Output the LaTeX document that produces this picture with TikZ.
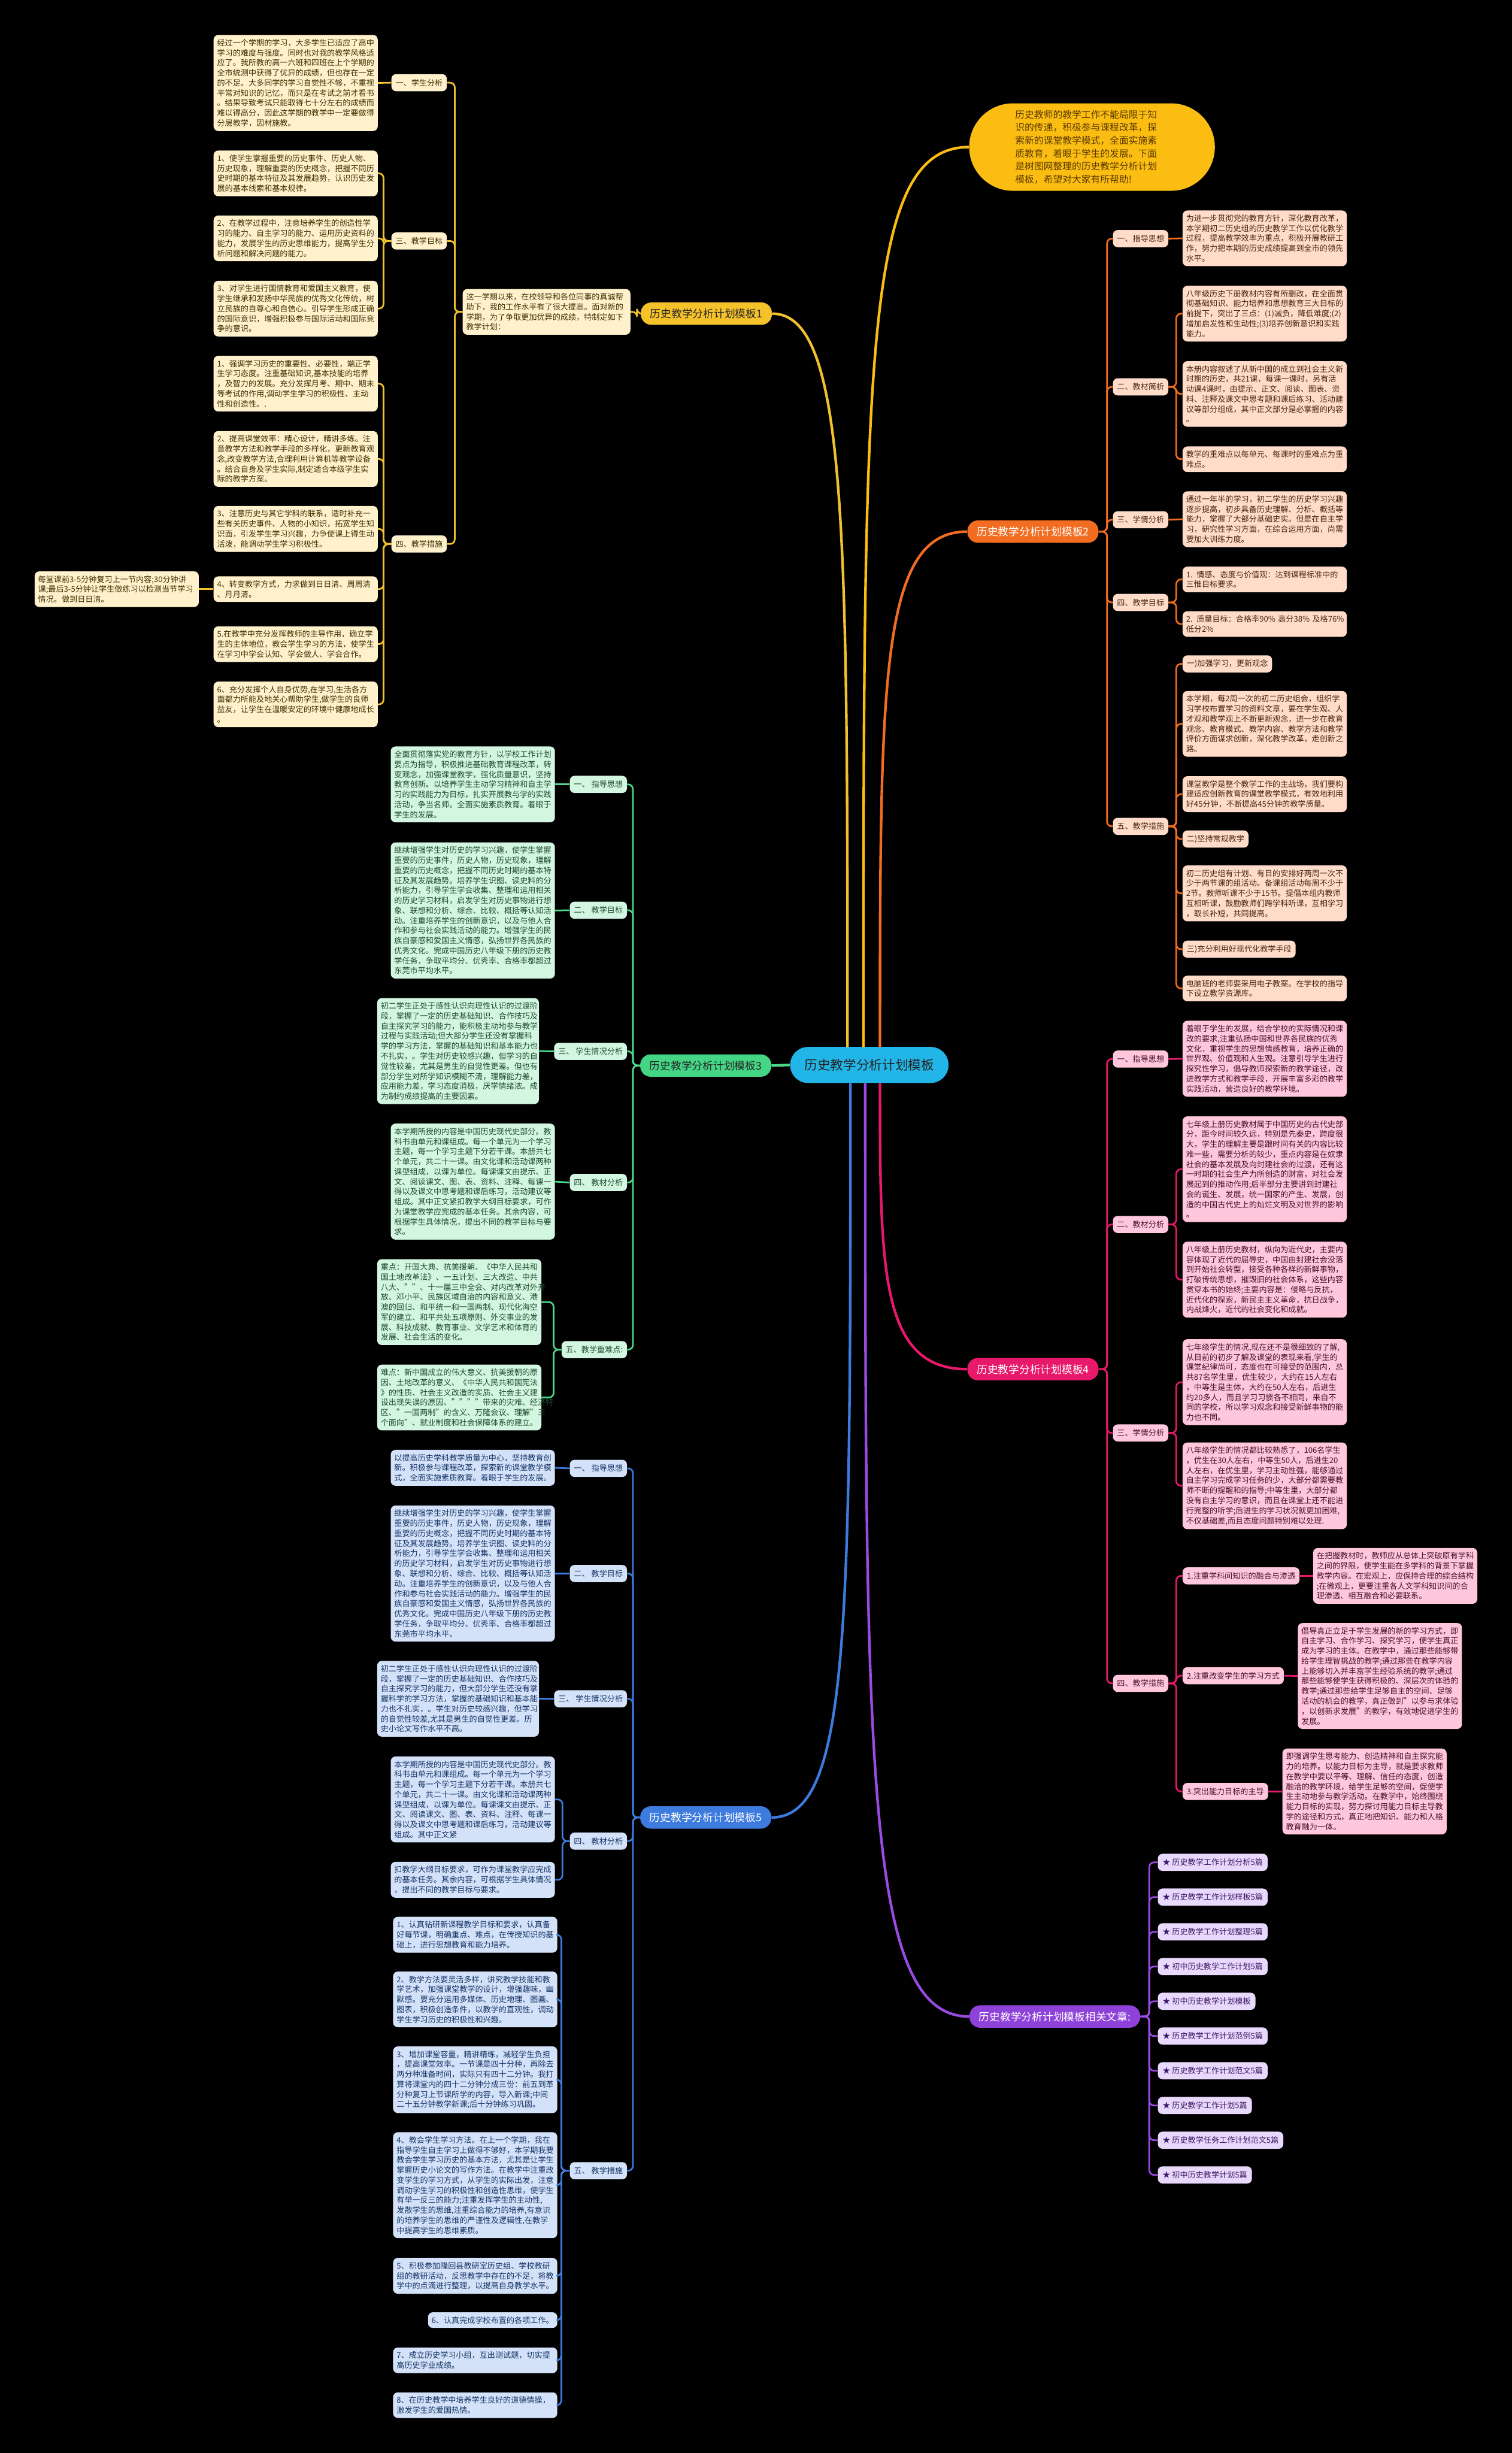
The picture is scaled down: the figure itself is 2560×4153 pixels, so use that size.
\documentclass[tikz,border=0pt]{standalone}
\usepackage{fontspec}
\setmainfont{Noto Sans CJK SC}
\usetikzlibrary{calc}
\newcommand\fs{\fontsize{6.65pt}{8.5pt}\selectfont}
\newcommand\fm{\fontsize{9pt}{11pt}\selectfont}
\newcommand\fr{\fontsize{11pt}{13pt}\selectfont}
\newcommand\fintro{\fontsize{8pt}{11pt}\selectfont}
\definecolor{goldline}{HTML}{F2C12E}\definecolor{goldbox}{HTML}{FFF1CC}\definecolor{goldtxt}{HTML}{3D3000}\definecolor{goldnode}{HTML}{F6C22A}
\definecolor{introfill}{HTML}{FBBD12}\definecolor{introtxt}{HTML}{5A3A00}
\definecolor{orline}{HTML}{F26D21}\definecolor{orbox}{HTML}{FFDCC9}\definecolor{ortxt}{HTML}{4A2410}
\definecolor{grline}{HTML}{4CD88A}\definecolor{grbox}{HTML}{D3F6E0}\definecolor{grtxt}{HTML}{1D4A2E}\definecolor{grnode}{HTML}{44D685}
\definecolor{pkline}{HTML}{E8196A}\definecolor{pkbox}{HTML}{FFC6DC}\definecolor{pktxt}{HTML}{4A1028}
\definecolor{blline}{HTML}{3E7BDE}\definecolor{blbox}{HTML}{D3E2F8}\definecolor{bltxt}{HTML}{163366}
\definecolor{vline}{HTML}{9A4BE3}\definecolor{vbox}{HTML}{E8D8FB}\definecolor{vtxt}{HTML}{3D1A66}\definecolor{vnode}{HTML}{8E42D9}
\definecolor{rootfill}{HTML}{22B6E8}
\begin{document}
\begin{tikzpicture}[x=0.5pt,y=-0.5pt,
 box/.style={rounded corners=4pt,inner xsep=3pt,inner ysep=3.5pt,font=\fs,align=left,text width=133pt},
 lab/.style={rounded corners=4pt,inner xsep=3.5pt,inner ysep=2pt,minimum height=14.5pt,font=\fs},
 mainnode/.style={rounded corners=9pt,inner xsep=8pt,minimum height=19pt,font=\fm},
 gb/.style={box,fill=goldbox,text=goldtxt},gl/.style={lab,fill=goldbox,text=goldtxt},
 ob/.style={box,fill=orbox,text=ortxt},ol/.style={lab,fill=orbox,text=ortxt},
 grb/.style={box,fill=grbox,text=grtxt},grl/.style={lab,fill=grbox,text=grtxt},
 pb/.style={box,fill=pkbox,text=pktxt},pl/.style={lab,fill=pkbox,text=pktxt},
 bb/.style={box,fill=blbox,text=bltxt},bl/.style={lab,fill=blbox,text=bltxt},
 vitem/.style={rounded corners=4pt,inner xsep=4pt,inner ysep=2pt,minimum height=14.5pt,font=\fs,fill=vbox,text=vtxt,anchor=west},
 cg/.style={draw=goldline,line width=1.4pt,rounded corners=4pt},
 co/.style={draw=orline,line width=1.4pt,rounded corners=4pt},
 cgr/.style={draw=grline,line width=1.4pt,rounded corners=4pt},
 cp/.style={draw=pkline,line width=1.4pt,rounded corners=4pt},
 cb/.style={draw=blline,line width=1.4pt,rounded corners=4pt},
 cv/.style={draw=vline,line width=1.4pt,rounded corners=4pt},
 big/.style={line width=2.2pt}]
\fill[black] (0,0) rectangle (2560,4153);
\useasboundingbox (0,0) rectangle (2560,4153);

% ---------- root and main branches
\node[rounded corners=15pt,fill=rootfill,text=black!85,font=\fr,minimum height=30.5pt,inner xsep=12pt] (root) at (1472,1803) {历史教学分析计划模板};
\node[rounded corners=37pt,fill=introfill,text=introtxt,font=\fintro,align=left,text width=130pt,inner xsep=39pt,inner ysep=5pt,minimum height=74pt] (intro) at (1849,249) {历史教师的教学工作不能局限于知\\识的传递，积极参与课程改革，探\\索新的课堂教学模式，全面实施素\\质教育，着眼于学生的发展。下面\\是树图网整理的历史教学分析计划\\模板，希望对大家有所帮助!};
\node[mainnode,fill=goldnode,text=black!85] (m1) at (1196,531) {历史教学分析计划模板1};
\node[mainnode,fill=orline,text=white] (m2) at (1749,900) {历史教学分析计划模板2};
\node[mainnode,fill=grnode,text=black!85] (m3) at (1195,1804) {历史教学分析计划模板3};
\node[mainnode,fill=pkline,text=white] (m4) at (1749,2318) {历史教学分析计划模板4};
\node[mainnode,fill=blline,text=white] (m5) at (1195,3077) {历史教学分析计划模板5};
\node[mainnode,fill=vnode,text=white] (m6) at (1786,3414) {历史教学分析计划模板相关文章:};

\draw[cg,big] (1435,1773) .. controls (1435,900) and (1435,531) .. (m1.east);
\draw[draw=introfill,big] (1462,1773) .. controls (1462,600) and (1462,249) .. (intro.west);
\draw[co,big] (1490,1773) .. controls (1490,1150) and (1490,900) .. (m2.west);
\draw[cgr,big] (root.west) -- (m3.east);
\draw[cp,big] (1490,1834) .. controls (1490,2150) and (1490,2318) .. (m4.west);
\draw[cv,big] (1465,1834) .. controls (1465,3000) and (1465,3414) .. (m6.west);
\draw[cb,big] (1440,1834) .. controls (1440,2750) and (1440,3077) .. (m5.east);

% ---------- template 1 (gold)
\node[gb,anchor=west,text width=136pt] (s1) at (783,528) {这一学期以来，在校领导和各位同事的真诚帮\\助下，我的工作水平有了很大提高。面对新的\\学期，为了争取更加优异的成绩，特制定如下\\教学计划：};
\draw[cg] (m1.west) -- ++(-6,0) |- (s1.east);
\node[gl,anchor=east] (A1) at (757,140) {一、学生分析};
\node[gl,anchor=east] (A3) at (757,408) {三、教学目标};
\node[gl,anchor=east] (A4) at (757,921) {四、教学措施};
\foreach \c in {A1,A3,A4} {\draw[cg] (s1.west) -- ++(-13,0) |- (\c.east);}
\node[gb,anchor=east] (A1t) at (640,140.5) {经过一个学期的学习，大多学生已适应了高中\\学习的难度与强度。同时也对我的教学风格适\\应了。我所教的高一六班和四班在上个学期的\\全市统测中获得了优异的成绩，但也存在一定\\的不足。大多同学的学习自觉性不够，不重视\\平常对知识的记忆，而只是在考试之前才看书\\。结果导致考试只能取得七十分左右的成绩而\\难以得高分，因此这学期的教学中一定要做得\\分层教学，因材施教。};
\draw[cg] (A1.west) -- (A1t.east);
\node[gb,anchor=east] (A3a) at (640,293.5) {1、使学生掌握重要的历史事件、历史人物、\\历史现象，理解重要的历史概念，把握不同历\\史时期的基本特征及其发展趋势，认识历史发\\展的基本线索和基本规律。};
\node[gb,anchor=east] (A3b) at (640,403.5) {2、在教学过程中，注意培养学生的创造性学\\习的能力、自主学习的能力、运用历史资料的\\能力，发展学生的历史思维能力，提高学生分\\析问题和解决问题的能力。};
\node[gb,anchor=east] (A3c) at (640,522.5) {3、对学生进行国情教育和爱国主义教育，使\\学生继承和发扬中华民族的优秀文化传统，树\\立民族的自尊心和自信心。引导学生形成正确\\的国际意识，增强积极参与国际活动和国际竞\\争的意识。};
\foreach \c in {A3a,A3b,A3c} {\draw[cg] (A3.west) -- ++(-13,0) |- (\c.east);}
\node[gb,anchor=east] (A4a) at (640,649.5) {1、强调学习历史的重要性、必要性，端正学\\生学习态度。注重基础知识,基本技能的培养\\，及智力的发展。充分发挥月考、期中、期末\\等考试的作用,调动学生学习的积极性、主动\\性和创造性。.};
\node[gb,anchor=east] (A4b) at (640,777) {2、提高课堂效率：精心设计，精讲多练。注\\意教学方法和教学手段的多样化，更新教育观\\念,改变教学方法,合理利用计算机等教学设备\\。结合自身及学生实际,制定适合本级学生实\\际的教学方案。};
\node[gb,anchor=east] (A4c) at (640,895.5) {3、注意历史与其它学科的联系，适时补充一\\些有关历史事件、人物的小知识，拓宽学生知\\识面，引发学生学习兴趣，力争使课上得生动\\活泼，能调动学生学习积极性。};
\node[gb,anchor=east] (A4d) at (640,997.5) {4、转变教学方式，力求做到日日清、周周清\\、月月清。};
\node[gb,anchor=east] (A4e) at (640,1090.5) {5.在教学中充分发挥教师的主导作用，确立学\\生的主体地位，教会学生学习的方法，使学生\\在学习中学会认知、学会做人、学会合作。};
\node[gb,anchor=east] (A4f) at (640,1192.5) {6、充分发挥个人自身优势,在学习,生活各方\\面都力所能及地关心帮助学生,做学生的良师\\益友，让学生在温暖安定的环境中健康地成长\\。};
\foreach \c in {A4a,A4b,A4c,A4d,A4e,A4f} {\draw[cg] (A4.west) -- ++(-13,0) |- (\c.east);}
\node[gb,anchor=east] (A4dd) at (337,997.5) {每堂课前3-5分钟复习上一节内容;30分钟讲\\课;最后3-5分钟让学生做练习以检测当节学习\\情况。做到日日清。};
\draw[cg] (A4d.west) -- (A4dd.east);

% ---------- template 2 (orange)
\node[ol,anchor=west] (B1) at (1884,404) {一、指导思想};
\node[ol,anchor=west] (B2) at (1884,655) {二、教材简析};
\node[ol,anchor=west] (B3) at (1884,880) {三、学情分析};
\node[ol,anchor=west] (B4) at (1884,1020) {四、教学目标};
\node[ol,anchor=west] (B5) at (1884,1399) {五、教学措施};
\foreach \c in {B1,B2,B3,B4,B5} {\draw[co] (m2.east) -- ++(14,0) |- (\c.west);}
\node[ob,anchor=west] (B1t) at (2002,403.5) {为进一步贯彻党的教育方针，深化教育改革，\\本学期初二历史组的历史教学工作以优化教学\\过程，提高教学效率为重点，积极开展教研工\\作，努力把本期的历史成绩提高到全市的领先\\水平。};
\draw[co] (B1.east) -- (B1t.west);
\node[ob,anchor=west] (B2a) at (2002,531) {八年级历史下册教材内容有所删改，在全面贯\\彻基础知识、能力培养和思想教育三大目标的\\前提下，突出了三点：(1)减负，降低难度;(2)\\增加启发性和生动性;(3)培养创新意识和实践\\能力。};
\node[ob,anchor=west] (B2b) at (2002,667) {本册内容叙述了从新中国的成立到社会主义新\\时期的历史，共21课，每课一课时，另有活\\动课4课时，由提示、正文、阅读、图表、资\\料、注释及课文中思考题和课后练习、活动建\\议等部分组成，其中正文部分是必掌握的内容\\。};
\node[ob,anchor=west] (B2c) at (2002,777.5) {教学的重难点以每单元、每课时的重难点为重\\难点。};
\foreach \c in {B2a,B2b,B2c} {\draw[co] (B2.east) -- ++(13,0) |- (\c.west);}
\node[ob,anchor=west] (B3t) at (2002,879) {通过一年半的学习，初二学生的历史学习兴趣\\逐步提高，初步具备历史理解、分析、概括等\\能力，掌握了大部分基础史实。但是在自主学\\习，研究性学习方面，在综合运用方面，尚需\\要加大训练力度。};
\draw[co] (B3.east) -- (B3t.west);
\node[ob,anchor=west] (B4a) at (2002,981) {\mbox{1. 情感、态度与价值观：达到课程标准中的}\\三惟目标要求。};
\node[ob,anchor=west] (B4b) at (2002,1056.5) {\mbox{2. 质量目标：合格率90\% 高分38\% 及格76\%}\\低分2\%};
\foreach \c in {B4a,B4b} {\draw[co] (B4.east) -- ++(13,0) |- (\c.west);}
\node[ol,anchor=west] (B5a) at (2002,1124) {一)加强学习，更新观念};
\node[ob,anchor=west] (B5b) at (2002,1225.5) {本学期，每2周一次的初二历史组会，组织学\\习学校布置学习的资料文章，要在学生观、人\\才观和教学观上不断更新观念，进一步在教育\\观念、教育模式、教学内容、教学方法和教学\\评价方面谋求创新，深化教学改革，走创新之\\路。};
\node[ob,anchor=west] (B5c) at (2002,1344.5) {课堂教学是整个教学工作的主战场，我们要构\\建适应创新教育的课堂教学模式，有效地利用\\好45分钟，不断提高45分钟的教学质量。};
\node[ol,anchor=west] (B5d) at (2002,1420.5) {二)坚持常规教学};
\node[ob,anchor=west] (B5e) at (2002,1512.5) {初二历史组有计划、有目的安排好两周一次不\\少于两节课的组活动。备课组活动每周不少于\\2节。教师听课不少于15节。提倡本组内教师\\互相听课，鼓励教师们跨学科听课，互相学习\\，取长补短，共同提高。};
\node[ol,anchor=west] (B5f) at (2002,1607) {三)充分利用好现代化教学手段};
\node[ob,anchor=west] (B5g) at (2002,1673.5) {电脑班的老师要采用电子教案。在学校的指导\\下设立教学资源库。};
\foreach \c in {B5a,B5b,B5c,B5d,B5e,B5f,B5g} {\draw[co] (B5.east) -- ++(13,0) |- (\c.west);}

% ---------- template 3 (green)
\node[grl,anchor=east] (C1) at (1062,1328) {一、 指导思想};
\node[grl,anchor=east] (C2) at (1062,1541) {二、 教学目标};
\node[grl,anchor=east] (C3) at (1062,1780) {三、 学生情况分析};
\node[grl,anchor=east] (C4) at (1062,2002) {四、 教材分析};
\node[grl,anchor=east] (C5) at (1062,2285) {五、教学重难点:};
\foreach \c in {C1,C2,C3,C4,C5} {\draw[cgr] (m3.west) -- ++(-12,0) |- (\c.east);}
\node[grb,anchor=east] (C1t) at (940,1328) {全面贯彻落实党的教育方针，以学校工作计划\\要点为指导，积极推进基础教育课程改革，转\\变观念，加强课堂教学，强化质量意识，坚持\\教育创新。以培养学生主动学习精神和自主学\\习的实践能力为目标，扎实开展教与学的实践\\活动，争当名师。全面实施素质教育。着眼于\\学生的发展。};
\node[grb,anchor=east] (C2t) at (940,1541.5) {继续增强学生对历史的学习兴趣，使学生掌握\\重要的历史事件，历史人物，历史现象，理解\\重要的历史概念，把握不同历史时期的基本特\\征及其发展趋势。培养学生识图、读史料的分\\析能力，引导学生学会收集、整理和运用相关\\的历史学习材料，启发学生对历史事物进行想\\象、联想和分析、综合、比较、概括等认知活\\动。注重培养学生的创新意识，以及与他人合\\作和参与社会实践活动的能力。增强学生的民\\族自豪感和爱国主义情感，弘扬世界各民族的\\优秀文化。完成中国历史八年级下册的历史教\\学任务，争取平均分、优秀率、合格率都超过\\东莞市平均水平。};
\node[grb,anchor=east,text width=131pt] (C3t) at (913,1779.5) {初二学生正处于感性认识向理性认识的过渡阶\\段，掌握了一定的历史基础知识、合作技巧及\\自主探究学习的能力，能积极主动地参与教学\\过程与实践活动;但大部分学生还没有掌握科\\学的学习方法，掌握的基础知识和基本能力也\\不扎实，。学生对历史较感兴趣，但学习的自\\觉性较差，尤其是男生的自觉性更差。但也有\\部分学生对所学知识模糊不清，理解能力差，\\应用能力差，学习态度消极，厌学情绪浓。成\\为制约成绩提高的主要因素。};
\node[grb,anchor=east] (C4t) at (940,2000.5) {本学期所授的内容是中国历史现代史部分。教\\科书由单元和课组成。每一个单元为一个学习\\主题，每一个学习主题下分若干课。本册共七\\个单元，共二十一课。由文化课和活动课两种\\课型组成，以课为单位。每课课文由提示、正\\文、阅读课文、图、表、资料、注释、每课一\\得以及课文中思考题和课后练习，活动建议等\\组成。其中正文紧扣教学大纲目标要求，可作\\为课堂教学应完成的基本任务。其余内容，可\\根据学生具体情况，提出不同的教学目标与要\\求。};
\foreach \a/\b in {C1/C1t,C2/C2t,C3/C3t,C4/C4t} {\draw[cgr] (\a.west) -- (\b.east);}
\node[grb,anchor=east] (C5a) at (917,2204.5) {重点：开国大典、抗美援朝、《中华人民共和\\国土地改革法》、一五计划、三大改造、中共\\八大、""、十一届三中全会、对内改革对外开\\放、邓小平、民族区域自治的内容和意义、港\\澳的回归、和平统一和一国两制、现代化海空\\军的建立、和平共处五项原则、外交事业的发\\展、科技成就、教育事业、文学艺术和体育的\\发展、社会生活的变化。};
\node[grb,anchor=east] (C5b) at (917,2366) {难点：新中国成立的伟大意义、抗美援朝的原\\因、土地改革的意义、《中华人民共和国宪法\\》的性质、社会主义改造的实质、社会主义建\\设出现失误的原因、""""带来的灾难、经济特\\区、"一国两制"的含义、万隆会议、理解"三\\个面向"、就业制度和社会保障体系的建立。};
\foreach \c in {C5a,C5b} {\draw[cgr] (C5.west) -- ++(-13,0) |- (\c.east);}

% ---------- template 4 (pink)
\node[pl,anchor=west] (D1) at (1884,1793) {一、指导思想};
\node[pl,anchor=west] (D2) at (1884,2073) {二、教材分析};
\node[pl,anchor=west] (D3) at (1884,2426) {三、学情分析};
\node[pl,anchor=west] (D4) at (1884,2850) {四、教学措施};
\foreach \c in {D1,D2,D3,D4} {\draw[cp] (m4.east) -- ++(14,0) |- (\c.west);}
\node[pb,anchor=west] (D1t) at (2002,1792.5) {着眼于学生的发展，结合学校的实际情况和课\\改的要求,注重弘扬中国和世界各民族的优秀\\文化，重视学生的思想情感教育，培养正确的\\世界观、价值观和人生观。注意引导学生进行\\探究性学习，倡导教师探索新的教学途径，改\\进教学方式和教学手段，开展丰富多彩的教学\\实践活动，营造良好的教学环境。};
\draw[cp] (D1.east) -- (D1t.west);
\node[pb,anchor=west] (D2a) at (2002,1979.5) {七年级上册历史教材属于中国历史的古代史部\\分，距今时间较久远，特别是先秦史，跨度很\\大，学生的理解主要是跟时间有关的内容比较\\难一些，需要分析的较少，重点内容是在奴隶\\社会的基本发展及向封建社会的过渡，还有这\\一时期的社会生产力所创造的财富，对社会发\\展起到的推动作用;后半部分主要讲到封建社\\会的诞生、发展，统一国家的产生、发展，创\\造的中国古代史上的灿烂文明及对世界的影响\\。};
\node[pb,anchor=west] (D2b) at (2002,2166.5) {八年级上册历史教材，纵向为近代史，主要内\\容体现了近代的屈辱史，中国由封建社会没落\\到开始社会转型，接受各种各样的新鲜事物，\\打破传统思想，摧毁旧的社会体系，这些内容\\贯穿本书的始终;主要内容是：侵略与反抗，\\近代化的探索，新民主主义革命，抗日战争，\\内战烽火，近代的社会变化和成就。};
\foreach \c in {D2a,D2b} {\draw[cp] (D2.east) -- ++(13,0) |- (\c.west);}
\node[pb,anchor=west] (D3a) at (2002,2340) {七年级学生的情况,现在还不是很细致的了解,\\从目前的初步了解及课堂的表现来看,学生的\\课堂纪律尚可，态度也在可接受的范围内，总\\共87名学生里，优生较少，大约在15人左右\\，中等生是主体，大约在50人左右，后进生\\约20多人，而且学习习惯各不相同，来自不\\同的学校，所以学习观念和接受新鲜事物的能\\力也不同。};
\node[pb,anchor=west] (D3b) at (2002,2515.5) {八年级学生的情况都比较熟悉了，106名学生\\，优生在30人左右，中等生50人，后进生20\\人左右，在优生里，学习主动性强，能够通过\\自主学习完成学习任务的少，大部分都需要教\\师不断的提醒和的指导;中等生里，大部分都\\没有自主学习的意识，而且在课堂上还不能进\\行完整的听学;后进生的学习状况就更加困难,\\不仅基础差,而且态度问题特别难以处理.};
\foreach \c in {D3a,D3b} {\draw[cp] (D3.east) -- ++(13,0) |- (\c.west);}
\node[pl,anchor=west] (D4a) at (2002,2668) {1.注重学科间知识的融合与渗透};
\node[pl,anchor=west] (D4b) at (2002,2837) {2.注重改变学生的学习方式};
\node[pl,anchor=west] (D4c) at (2002,3033) {3.突出能力目标的主导};
\foreach \c in {D4a,D4b,D4c} {\draw[cp] (D4.east) -- ++(13,0) |- (\c.west);}
\node[pb,anchor=west] (D4aa) at (2223,2668) {在把握教材时，教师应从总体上突破原有学科\\之间的界限，使学生能在多学科的背景下掌握\\教学内容。在宏观上，应保持合理的综合结构\\;在微观上，更要注重各人文学科知识间的合\\理渗透、相互融合和必要联系。};
\node[pb,anchor=west] (D4bb) at (2197,2837.5) {倡导真正立足于学生发展的新的学习方式，即\\自主学习、合作学习、探究学习，使学生真正\\成为学习的主体。在教学中，通过那些能够带\\给学生理智挑战的教学;通过那些在教学内容\\上能够切入并丰富学生经验系统的教学;通过\\那些能够使学生获得积极的、深层次的体验的\\教学;通过那些给学生足够自主的空间、足够\\活动的机会的教学，真正做到"以参与求体验\\，以创新求发展"的教学，有效地促进学生的\\发展。};
\node[pb,anchor=west] (D4cc) at (2171,3033) {即强调学生思考能力、创造精神和自主探究能\\力的培养。以能力目标为主导，就是要求教师\\在教学中要以平等、理解、信任的态度，创造\\融洽的教学环境，给学生足够的空间，促使学\\生主动地参与教学活动。在教学中，始终围绕\\能力目标的实现，努力探讨用能力目标主导教\\学的途径和方式，真正地把知识、能力和人格\\教育融为一体。};
\foreach \a/\b in {D4a/D4aa,D4b/D4bb,D4c/D4cc} {\draw[cp] (\a.east) -- (\b.west);}

% ---------- template 5 (blue)
\node[bl,anchor=east] (E1) at (1062,2486) {一、 指导思想};
\node[bl,anchor=east] (E2) at (1062,2664) {二、 教学目标};
\node[bl,anchor=east] (E3) at (1062,2876) {三、 学生情况分析};
\node[bl,anchor=east] (E4) at (1062,3117) {四、 教材分析};
\node[bl,anchor=east] (E5) at (1062,3675) {五、 教学措施};
\foreach \c in {E1,E2,E3,E4,E5} {\draw[cb] (m5.west) -- ++(-12,0) |- (\c.east);}
\node[bb,anchor=east] (E1t) at (940,2485) {以提高历史学科教学质量为中心，坚持教育创\\新。积极参与课程改革，探索新的课堂教学模\\式，全面实施素质教育。着眼于学生的发展。};
\node[bb,anchor=east] (E2t) at (940,2664) {继续增强学生对历史的学习兴趣，使学生掌握\\重要的历史事件，历史人物，历史现象，理解\\重要的历史概念，把握不同历史时期的基本特\\征及其发展趋势。培养学生识图、读史料的分\\析能力，引导学生学会收集、整理和运用相关\\的历史学习材料，启发学生对历史事物进行想\\象、联想和分析、综合、比较、概括等认知活\\动。注重培养学生的创新意识，以及与他人合\\作和参与社会实践活动的能力。增强学生的民\\族自豪感和爱国主义情感，弘扬世界各民族的\\优秀文化。完成中国历史八年级下册的历史教\\学任务，争取平均分、优秀率、合格率都超过\\东莞市平均水平。};
\node[bb,anchor=east,text width=131pt] (E3t) at (913,2876) {初二学生正处于感性认识向理性认识的过渡阶\\段，掌握了一定的历史基础知识、合作技巧及\\自主探究学习的能力，但大部分学生还没有掌\\握科学的学习方法，掌握的基础知识和基本能\\力也不扎实，。学生对历史较感兴趣，但学习\\的自觉性较差,尤其是男生的自觉性更差。历\\史小论文写作水平不高。};
\foreach \a/\b in {E1/E1t,E2/E2t,E3/E3t} {\draw[cb] (\a.west) -- (\b.east);}
\node[bb,anchor=east] (E4a) at (940,3046.5) {本学期所授的内容是中国历史现代史部分。教\\科书由单元和课组成。每一个单元为一个学习\\主题，每一个学习主题下分若干课。本册共七\\个单元，共二十一课。由文化课和活动课两种\\课型组成，以课为单位。每课课文由提示、正\\文、阅读课文、图、表、资料、注释、每课一\\得以及课文中思考题和课后练习，活动建议等\\组成。其中正文紧};
\node[bb,anchor=east] (E4b) at (940,3182.5) {扣教学大纲目标要求，可作为课堂教学应完成\\的基本任务。其余内容，可根据学生具体情况\\，提出不同的教学目标与要求。};
\foreach \c in {E4a,E4b} {\draw[cb] (E4.west) -- ++(-12,0) |- (\c.east);}
\node[bb,anchor=east] (E51) at (944,3275.5) {1、认真钻研新课程教学目标和要求，认真备\\好每节课，明确重点、难点，在传授知识的基\\础上，进行思想教育和能力培养。};
\node[bb,anchor=east] (E52) at (944,3385) {2、教学方法要灵活多样，讲究教学技能和教\\学艺术，加强课堂教学的设计，增强趣味，幽\\默感。要充分运用多媒体、历史地理、图画、\\图表，积极创造条件，以教学的直观性，调动\\学生学习历史的积极性和兴趣。};
\node[bb,anchor=east] (E53) at (944,3521) {3、增加课堂容量，精讲精练，减轻学生负担\\，提高课堂效率。一节课是四十分种，再除去\\两分种准备时间，实际只有四十二分钟。我打\\算将课堂内的四十二分钟分成三份：前五到革\\分种复习上节课所学的内容，导入新课;中间\\二十五分钟教学新课;后十分钟练习巩固。};
\node[bb,anchor=east] (E54) at (944,3699.5) {4、教会学生学习方法。在上一个学期，我在\\指导学生自主学习上做得不够好，本学期我要\\教会学生学习历史的基本方法，尤其是让学生\\掌握历史小论文的写作方法。在教学中注重改\\变学生的学习方式，从学生的实际出发，注意\\调动学生学习的积极性和创造性思维，使学生\\有举一反三的能力;注重发挥学生的主动性,\\发散学生的思维,注重综合能力的培养,有意识\\的培养学生的思维的严谨性及逻辑性,在教学\\中提高学生的思维素质。};
\node[bb,anchor=east] (E55) at (944,3853) {5、积极参加隆回县教研室历史组、学校教研\\组的教研活动，反思教学中存在的不足，将教\\学中的点滴进行整理，以提高自身教学水平。};
\node[bb,anchor=east,text width=] (E56) at (944,3928) {6、认真完成学校布置的各项工作。};
\node[bb,anchor=east] (E57) at (944,3996) {7、成立历史学习小组，互出测试题，切实提\\高历史学业成绩。};
\node[bb,anchor=east] (E58) at (944,4072) {8、在历史教学中培养学生良好的道德情操，\\激发学生的爱国热情。};
\foreach \c in {E51,E52,E53,E54,E55,E56,E57,E58} {\draw[cb] (E5.west) -- ++(-14,0) |- (\c.east);}

% ---------- related articles (purple)
\foreach \t [count=\i from 0] in {历史教学工作计划分析5篇,历史教学工作计划样板5篇,历史教学工作计划整理5篇,初中历史教学工作计划5篇,初中历史教学计划模板,历史教学工作计划范例5篇,历史教学工作计划范文5篇,历史教学工作计划5篇,历史教学任务工作计划范文5篇,初中历史教学计划5篇} {
 \node[vitem] (r\i) at (1960,{3153+58.8*\i}) {★ \t};
 \draw[cv] (m6.east) -- ++(15,0) |- (r\i.west);
}
\end{tikzpicture}
\end{document}
